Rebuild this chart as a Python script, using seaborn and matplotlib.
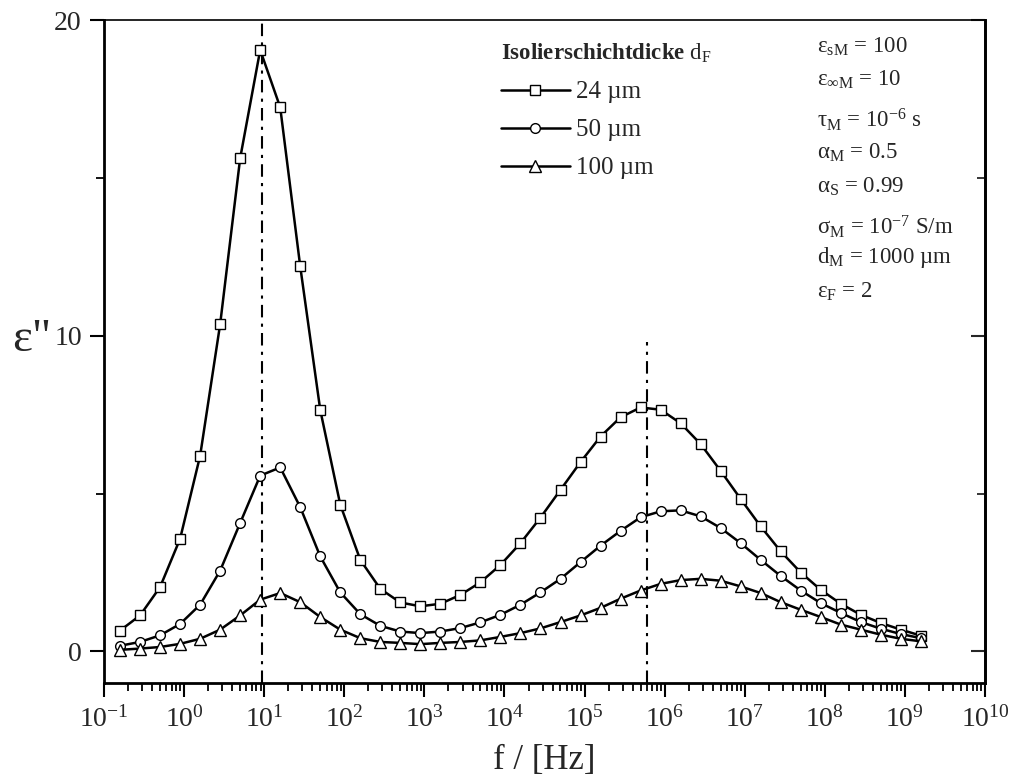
import numpy as np
import pandas as pd
import matplotlib
matplotlib.use("Agg")
import matplotlib.pyplot as plt
import seaborn as sns
from matplotlib.ticker import LogLocator, FixedLocator, NullFormatter, LogFormatterSciNotation

# ---- data -------------------------------------------------------------
# log10 of the frequency at each computed point
log_f = [-0.8, -0.55, -0.3, -0.05, 0.2, 0.45, 0.7, 0.95, 1.2, 1.45,
         1.7, 1.95, 2.2, 2.45, 2.7, 2.95, 3.2, 3.45, 3.7, 3.95,
         4.2, 4.45, 4.7, 4.95, 5.2, 5.45, 5.7, 5.95, 6.2, 6.45,
         6.7, 6.95, 7.2, 7.45, 7.7, 7.95, 8.2, 8.45, 8.7, 8.95, 9.2]

eps_24 = [0.66, 1.14, 2.04, 3.57, 6.2, 10.37, 15.63, 19.06, 17.24, 12.2,
          7.65, 4.65, 2.9, 1.98, 1.55, 1.43, 1.51, 1.79, 2.19, 2.74,
          3.43, 4.24, 5.12, 6.0, 6.81, 7.42, 7.73, 7.66, 7.23, 6.57,
          5.72, 4.83, 3.96, 3.17, 2.50, 1.95, 1.51, 1.16, 0.90, 0.69, 0.50]

eps_50 = [0.18, 0.30, 0.51, 0.87, 1.48, 2.56, 4.07, 5.57, 5.83, 4.57,
          3.01, 1.87, 1.18, 0.81, 0.63, 0.58, 0.63, 0.74, 0.92, 1.16,
          1.48, 1.87, 2.30, 2.83, 3.35, 3.82, 4.25, 4.44, 4.47, 4.28,
          3.91, 3.43, 2.90, 2.39, 1.93, 1.53, 1.22, 0.93, 0.72, 0.55, 0.42]

eps_100 = [0.05, 0.09, 0.14, 0.24, 0.40, 0.69, 1.14, 1.64, 1.85, 1.56,
           1.09, 0.69, 0.42, 0.30, 0.27, 0.23, 0.27, 0.30, 0.35, 0.46,
           0.58, 0.73, 0.93, 1.14, 1.38, 1.67, 1.93, 2.14, 2.26, 2.30,
           2.24, 2.06, 1.85, 1.56, 1.32, 1.09, 0.85, 0.69, 0.53, 0.40, 0.32]

series_names = ["24 µm", "50 µm", "100 µm"]
legend_title = r"$\mathbf{Isolierschichtdicke}$ d$_\mathrm{F}$"

# relaxation frequencies marked by dash-dot lines, and their upper ends
peak_freqs = [9.4, 6.0e5]
peak_line_tops = [20.0, 9.8]

param_lines = [r"$ε_{sM}$ = 100",
               r"$ε_{∞M}$ = 10",
               r"$τ_{M}$ = 10$^{-6}$ s",
               r"$α_{M}$ = 0.5",
               r"$α_{S}$ = 0.99",
               r"$σ_{M}$ = 10$^{-7}$ S/m",
               r"$d_{M}$ = 1000 µm",
               r"$ε_{F}$ = 2"]

x_label = "f / [Hz]"
y_label = 'ε"'

# ---- style ------------------------------------------------------------
sns.set_theme(style="white")
plt.rcParams["font.family"] = ["Liberation Serif", "DejaVu Serif"]
plt.rcParams["mathtext.fontset"] = "custom"
plt.rcParams["mathtext.rm"] = "Liberation Serif"
plt.rcParams["mathtext.it"] = "Liberation Serif:italic"
plt.rcParams["mathtext.bf"] = "Liberation Serif:bold"
plt.rcParams["mathtext.default"] = "regular"
plt.rcParams["axes.unicode_minus"] = False

freq = [10 ** e for e in log_f]
df = pd.DataFrame({
    "f": freq * 3,
    "eps": eps_24 + eps_50 + eps_100,
    "d": np.repeat(series_names, len(freq)),
})

fig = plt.figure(figsize=(10.1, 7.8), dpi=100)
ax = fig.add_axes([0.103, 0.1244, 0.8722, 0.8496])

markers = {"24 µm": ("s", 6.5), "50 µm": ("o", 7.0), "100 µm": ("^", 8.0)}
handles = []
for name in series_names:
    sub = df[df["d"] == name]
    m, ms = markers[name]
    sns.lineplot(data=sub, x="f", y="eps", ax=ax, color="black", lw=1.8,
                 marker=m, ms=ms, mfc="white", mec="black", mew=1.0,
                 legend=False, errorbar=None)
    handles.append(ax.lines[-1])

for xf, top in zip(peak_freqs, peak_line_tops):
    ax.plot([xf, xf], [-1, top], color="black", lw=1.5,
            linestyle=(0, (6, 3, 1.5, 3)), zorder=1)

ax.set_xscale("log")
ax.set_xlim(1e-1, 1e10)
ax.set_ylim(-1, 20)

ax.xaxis.set_major_locator(LogLocator(base=10, numticks=30))
ax.xaxis.set_minor_locator(LogLocator(base=10, subs=np.arange(2, 10), numticks=300))
ax.xaxis.set_minor_formatter(NullFormatter())
ax.xaxis.set_major_formatter(LogFormatterSciNotation())
ax.yaxis.set_major_locator(FixedLocator([0, 10, 20]))
ax.yaxis.set_minor_locator(FixedLocator([5, 15]))

for s in ax.spines.values():
    s.set_linewidth(2.0)
    s.set_color("black")
ax.spines["top"].set_linewidth(1.2)

ax.tick_params(axis="x", which="major", direction="out", length=10, width=1.5,
               labelsize=20, pad=7, top=False, bottom=True, color="black")
ax.tick_params(axis="x", which="minor", direction="out", length=5.5, width=1.3,
               top=False, bottom=True, color="black")
ax.tick_params(axis="y", which="major", direction="out", length=10, width=1.5,
               labelsize=20, pad=6, left=True, right=False, color="black")
ax.tick_params(axis="y", which="minor", direction="out", length=5.5, width=1.3,
               left=True, right=False, color="black")

# inward ticks on the right-hand side
sec = ax.secondary_yaxis("right")
sec.yaxis.set_major_locator(FixedLocator([0, 10, 20]))
sec.yaxis.set_minor_locator(FixedLocator([5, 15]))
sec.tick_params(which="major", direction="in", length=10, width=1.5, labelright=False)
sec.tick_params(which="minor", direction="in", length=5.5, width=1.3)
sec.spines["right"].set_linewidth(2.0)

ax.set_xlabel(x_label, fontsize=25, labelpad=8)
ax.set_ylabel("")
fig.text(32 / 1010, 1 - 340 / 780, y_label, fontsize=34, ha="center", va="center")

ax.legend(handles=handles, labels=series_names, title=legend_title,
          loc="upper left", bbox_to_anchor=(501 / 1010, 1 - 42 / 780),
          bbox_transform=fig.transFigure, frameon=False, fontsize=18,
          title_fontsize=16.5, handlelength=2.75, handletextpad=0.25,
          labelspacing=0.62, borderpad=0, borderaxespad=0,
          alignment="left", numpoints=1)

param_y = [47, 80, 120, 153, 187, 227, 258, 292]
for txt, yp in zip(param_lines, param_y):
    fig.text(817 / 1010, 1 - yp / 780, txt, fontsize=16.5, ha="left", va="center")

ax.grid(False)
fig.savefig("out.png", dpi=100, facecolor="white")
